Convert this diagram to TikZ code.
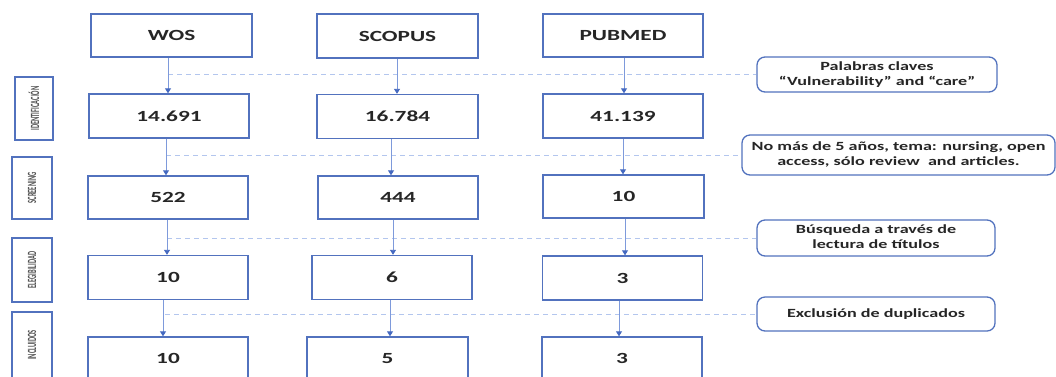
\documentclass[tikz,border=0pt]{standalone}
\usepackage{fontspec}
\setmainfont{Carlito}
\usepackage{graphicx}
\usetikzlibrary{arrows.meta}
\definecolor{boxblue}{HTML}{5272BE}
\definecolor{arrblue}{HTML}{7E9ADB}
\definecolor{tipblue}{HTML}{4468C0}
\definecolor{dashblue}{HTML}{B3C6EE}
\definecolor{txtgray}{HTML}{262626}
\newcommand{\wtxt}[1]{\scalebox{1.5}[1]{\fontsize{15.5}{18}\selectfont\bfseries #1}}
\newcommand{\rtxt}[1]{\scalebox{1.45}[1]{\fontsize{12.5}{15}\selectfont\bfseries\begin{tabular}{@{}c@{}}#1\end{tabular}}}
\newcommand{\ltxt}[1]{\scalebox{0.52}[1]{\fontsize{12.5}{14}\selectfont\bfseries #1}}
\tikzset{
  mainbox/.style={draw=boxblue, line width=1.4pt, minimum width=160pt, minimum height=43pt, inner sep=0pt, text=txtgray},
  notebox/.style={draw=boxblue, line width=1.3pt, rounded corners=8pt, inner sep=0pt, text=txtgray},
  sidebox/.style={draw=boxblue, line width=1.3pt, minimum width=40pt, inner sep=0pt, text=txtgray!80},
  arr/.style={draw=arrblue, line width=0.9pt, -{Triangle[width=6pt,length=5pt,color=tipblue]}},
  dsh/.style={draw=dashblue, line width=1pt, dash pattern=on 5pt off 4pt}
}
\begin{document}
\begin{tikzpicture}[x=1pt,y=-1pt]
\clip (0,0) rectangle (1056,376);
\fill[white] (0,0) rectangle (1056,376);

% main boxes
\node[mainbox, minimum width=161pt] (wos) at (171.5,35.5) {\wtxt{WOS}};
\node[mainbox, minimum width=161pt, minimum height=44pt] (scopus) at (397.5,36) {\wtxt{SCOPUS}};
\node[mainbox] (pubmed) at (623,35.5) {\wtxt{PUBMED}};

\node[mainbox, minimum height=44pt] (r2a) at (169,116) {\wtxt{14.691}};
\node[mainbox, minimum width=161pt, minimum height=44pt] (r2b) at (397.5,116.5) {\wtxt{16.784}};
\node[mainbox, minimum height=44pt] (r2c) at (623,116) {\wtxt{41.139}};

\node[mainbox] (r3a) at (168,197.5) {\wtxt{522}};
\node[mainbox] (r3b) at (398,197.5) {\wtxt{444}};
\node[mainbox, minimum width=161pt] (r3c) at (623.5,196.5) {\wtxt{10}};

\node[mainbox, minimum height=44pt] (r4a) at (168,277.5) {\wtxt{10}};
\node[mainbox, minimum height=44pt] (r4b) at (392,277.5) {\wtxt{6}};
\node[mainbox, minimum height=44pt] (r4c) at (622.5,278) {\wtxt{3}};

\node[mainbox] (r5a) at (168,358.5) {\wtxt{10}};
\node[mainbox, minimum width=161pt] (r5b) at (387.5,358.5) {\wtxt{5}};
\node[mainbox] (r5c) at (622,358.5) {\wtxt{3}};

% side labels
\node[sidebox, minimum width=38pt, minimum height=63pt] (s1) at (34,108.5) {\rotatebox{90}{\ltxt{IDENTIFICACIÓN}}};
\node[sidebox, minimum height=62pt] (s2) at (32,188) {\rotatebox{90}{\ltxt{SCREENING}}};
\node[sidebox, minimum height=64pt] (s3) at (32,270) {\rotatebox{90}{\ltxt{ELEGIBILIDAD}}};
\node[sidebox, minimum height=66pt] (s4) at (32,345) {\rotatebox{90}{\ltxt{INCLUIDOS}}};

% note boxes
\node[notebox, minimum width=240pt, minimum height=35pt] (n1) at (877,74.5) {\rtxt{Palabras claves\\“Vulnerability” and “care”}};
\node[notebox, minimum width=313pt, minimum height=40pt] (n2) at (898.5,155) {\rtxt{No más de 5 años, tema: nursing, open\\access, sólo review\ \ and articles.}};
\node[notebox, minimum width=238pt, minimum height=36pt] (n3) at (876,238) {\rtxt{Búsqueda a través de\\lectura de títulos}};
\node[notebox, minimum width=238pt, minimum height=34pt] (n4) at (876,314) {\rtxt{Exclusión de duplicados}};

% dashed guide lines
\coordinate (d1) at (168,74.5);
\coordinate (d2) at (166,155);
\coordinate (d3) at (167,238);
\coordinate (d4) at (165,314);
\draw[dsh] (d1) -- (n1.west);
\draw[dsh] (d2) -- (n2.west);
\draw[dsh] (d3) -- (n3.west);
\draw[dsh] (d4) -- (n4.west);

% arrow x positions
\coordinate (a1a) at (168,0); \coordinate (a1b) at (397,0); \coordinate (a1c) at (624,0);
\coordinate (a2a) at (166,0); \coordinate (a2b) at (391,0); \coordinate (a2c) at (623,0);
\coordinate (a3a) at (167,0); \coordinate (a3b) at (393,0); \coordinate (a3c) at (625,0);
\coordinate (a4a) at (163,0); \coordinate (a4b) at (390,0); \coordinate (a4c) at (619,0);

\draw[arr] (wos.south -| a1a) -- (r2a.north -| a1a);
\draw[arr] (scopus.south -| a1b) -- (r2b.north -| a1b);
\draw[arr] (pubmed.south -| a1c) -- (r2c.north -| a1c);

\draw[arr] (r2a.south -| a2a) -- (r3a.north -| a2a);
\draw[arr] (r2b.south -| a2b) -- (r3b.north -| a2b);
\draw[arr] (r2c.south -| a2c) -- (r3c.north -| a2c);

\draw[arr] (r3a.south -| a3a) -- (r4a.north -| a3a);
\draw[arr] (r3b.south -| a3b) -- (r4b.north -| a3b);
\draw[arr] (r3c.south -| a3c) -- (r4c.north -| a3c);

\draw[arr] (r4a.south -| a4a) -- (r5a.north -| a4a);
\draw[arr] (r4b.south -| a4b) -- (r5b.north -| a4b);
\draw[arr] (r4c.south -| a4c) -- (r5c.north -| a4c);
\end{tikzpicture}
\end{document}
